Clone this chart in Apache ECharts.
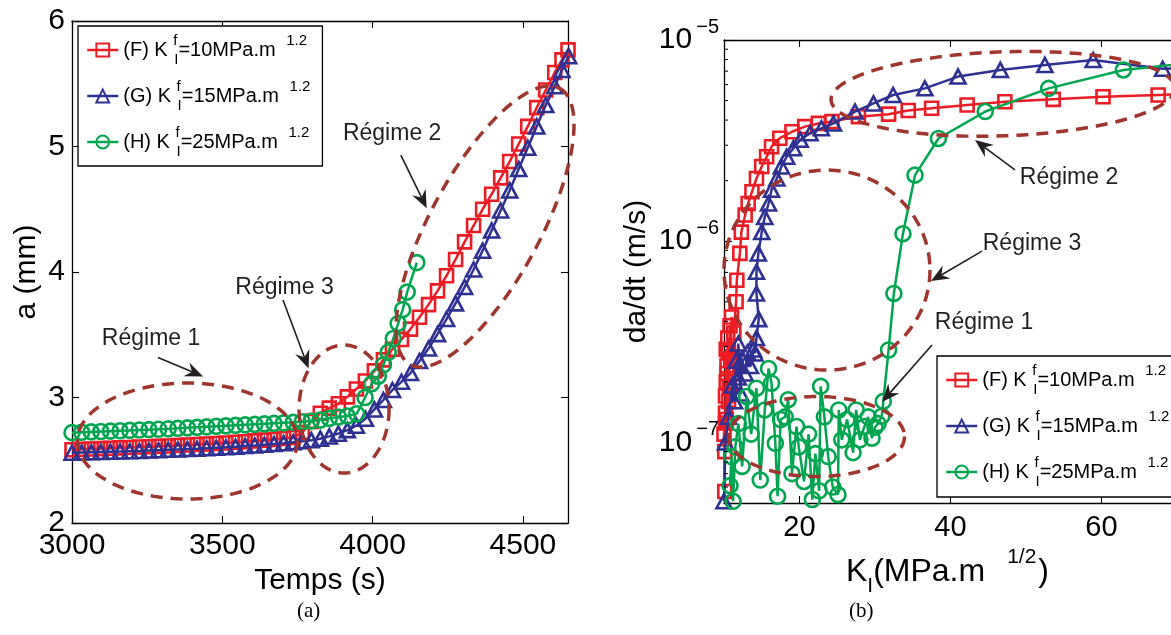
<!DOCTYPE html>
<html><head><meta charset="utf-8">
<script src="https://cdn.jsdelivr.net/npm/echarts@6/dist/echarts.min.js"></script>
<style>html,body{margin:0;padding:0;background:#fff}#c{width:1171px;height:635px}</style>
</head><body><div id="c"></div>
<script>
// ---------------- DATA ----------------
const seriesNames = ['F', 'G', 'H'];
const legendKf = ['10', '15', '25'];

// (a) crack length a (mm) versus time (s)
const timeF = [3000,3032,3064,3096,3128,3160,3192,3224,3256,3288,3320,3352,3384,3416,3448,3480,3512,3544,3576,3608,3640,3672,3704,3736,3766,3796,3826,3856,3886,3916,3946,3976,4006,4036,4066,4096,4126,4156,4186,4216,4246,4276,4306,4336,4366,4396,4426,4456,4486,4516,4546,4576,4606,4630,4650];
const aF = [2.584,2.587,2.590,2.593,2.596,2.599,2.602,2.605,2.608,2.611,2.614,2.617,2.621,2.625,2.629,2.633,2.638,2.643,2.648,2.654,2.660,2.666,2.673,2.682,2.720,2.810,2.875,2.915,2.950,3.005,3.068,3.132,3.212,3.300,3.385,3.462,3.545,3.640,3.740,3.850,3.970,4.100,4.240,4.370,4.500,4.620,4.750,4.880,5.020,5.160,5.310,5.450,5.590,5.690,5.770];
const timeG = [3000,3032,3064,3096,3128,3160,3192,3224,3256,3288,3320,3352,3384,3416,3448,3480,3512,3544,3576,3608,3640,3672,3704,3736,3766,3796,3826,3856,3886,3916,3946,3976,4006,4036,4066,4096,4126,4156,4186,4216,4246,4276,4306,4336,4366,4396,4426,4456,4486,4516,4546,4576,4606,4630,4652];
const aG = [2.560,2.562,2.564,2.566,2.568,2.570,2.572,2.574,2.577,2.580,2.583,2.586,2.589,2.592,2.596,2.600,2.604,2.608,2.613,2.618,2.624,2.630,2.636,2.643,2.651,2.660,2.672,2.690,2.712,2.740,2.775,2.830,2.905,2.980,3.060,3.125,3.195,3.290,3.390,3.505,3.625,3.750,3.880,4.020,4.170,4.330,4.490,4.650,4.820,4.990,5.160,5.330,5.480,5.610,5.720];
const timeH = [3000,3032,3064,3096,3128,3160,3192,3224,3256,3288,3320,3352,3384,3416,3448,3480,3512,3544,3576,3608,3640,3672,3704,3736,3766,3796,3826,3856,3886,3916,3947,3975,3997,4019,4036,4052,4069,4085,4100,4115,4147];
const aH = [2.720,2.723,2.726,2.729,2.732,2.735,2.738,2.741,2.744,2.747,2.750,2.754,2.758,2.762,2.766,2.770,2.774,2.778,2.782,2.786,2.790,2.794,2.798,2.802,2.807,2.813,2.820,2.834,2.845,2.852,2.870,3.000,3.110,3.170,3.260,3.360,3.470,3.590,3.700,3.840,4.075];

// (b) crack velocity da/dt (m/s) versus K_I (MPa.m^1/2)
const kF = [10.1,10.0,10.2,10.1,10.3,10.2,10.3,10.2,10.4,10.3,10.5,10.4,10.6,10.6,10.7,10.8,10.9,11.0,11.3,11.6,11.7,12.1,12.3,12.8,13.2,13.7,14.3,15.0,15.65,16.3,17.4,19.0,20.7,22.5,24.3,27.8,31.8,34.4,37.5,42.2,47.2,53.6,60.2,67.5,76.0];
const vF = [5.7e-8,1.1e-7,1.4e-7,9.0e-8,2.0e-7,1.25e-7,2.9e-7,1.7e-7,2.4e-7,1.3e-7,3.3e-7,2.2e-7,1.6e-7,2.8e-7,1.9e-7,3.8e-7,2.6e-7,4.2e-7,3.5e-7,5.0e-7,6.4e-7,8.7e-7,1.11e-6,1.35e-6,1.54e-6,1.76e-6,2.05e-6,2.35e-6,2.63e-6,2.95e-6,3.25e-6,3.50e-6,3.71e-6,3.85e-6,3.93e-6,4.16e-6,4.28e-6,4.46e-6,4.58e-6,4.75e-6,4.93e-6,5.07e-6,5.22e-6,5.33e-6,5.45e-6];
const kG = [10.0,10.2,10.6,11.1,11.4,11.6,11.9,11.9,12.2,12.4,12.8,13.1,13.5,13.9,14.1,14.3,14.6,14.3,14.3,14.55,15.0,15.4,15.9,16.3,17.0,17.6,18.3,19.2,20.1,21.4,22.9,24.5,27.35,29.8,32.4,36.6,41.0,46.6,52.5,58.9,68.1,77.5];
const vG = [5.1e-8,1.0e-7,1.34e-7,1.92e-7,1.6e-7,2.55e-7,2.1e-7,3.1e-7,1.75e-7,2.6e-7,2.2e-7,2.8e-7,2.4e-7,2.9e-7,2.77e-7,3.3e-7,4.1e-7,5.5e-7,7.05e-7,8.7e-7,1.11e-6,1.32e-6,1.54e-6,1.80e-6,2.05e-6,2.35e-6,2.63e-6,2.90e-6,3.19e-6,3.44e-6,3.64e-6,3.85e-6,4.41e-6,4.84e-6,5.33e-6,5.75e-6,6.58e-6,7.10e-6,7.52e-6,7.96e-6,7.2e-6,7.3e-6];
const kH = [10.8,11.0,11.2,11.5,11.9,12.4,13.0,13.6,14.3,14.8,15.4,15.9,16.3,16.8,17.1,17.5,18.1,18.5,19.0,19.6,19.9,20.6,21.2,21.7,22.1,22.6,22.8,23.3,23.8,24.4,25.1,25.2,25.6,26.3,27.1,27.5,28.0,28.6,29.1,29.6,30.0,30.4,30.9,31.1,31.8,32.5,33.7,35.3,38.4,44.6,53.0,62.9,76.0];
const vH = [6.1e-8,8.5e-8,5.1e-8,9.5e-8,1.24e-7,7.6e-8,1.69e-7,1.1e-7,1.86e-7,6.5e-8,1.45e-7,2.33e-7,1.97e-7,9.9e-8,5.4e-8,1.3e-7,1.34e-7,1.63e-7,7.0e-8,1.2e-7,9.5e-8,6.4e-8,1.1e-7,5.2e-8,8.8e-8,5.75e-8,1.9e-7,1.34e-7,8.5e-8,6.0e-8,5.5e-8,1.45e-7,1.03e-7,1.3e-7,8.9e-8,1.45e-7,1.03e-7,1.2e-7,1.34e-7,1.05e-7,1.19e-7,1.24e-7,1.35e-7,1.6e-7,2.88e-7,5.5e-7,1.09e-6,2.13e-6,3.24e-6,4.41e-6,5.75e-6,7.1e-6,8.0e-6];

// tick values
const ticksAx = [3000, 3500, 4000, 4500];
const ticksBx = [20, 40, 60];
const minorTicksB = [6e-8,7e-8,8e-8,9e-8,2e-7,3e-7,4e-7,5e-7,6e-7,7e-7,8e-7,9e-7,2e-6,3e-6,4e-6,5e-6,6e-6,7e-6,8e-6,9e-6];

// annotations (anchored in data coordinates)
const annotA = {
  ellipses: [{c:[3384,2.653], rx:110, ry:58, rot:0}, {c:[3905,2.908], rx:45, ry:64, rot:0}, {c:[4374,4.363], rx:157, ry:55, rot:61.6}],
  arrows: [{from:[3286,3.319], to:[3436,3.168]}, {from:[3702,3.777], to:[3787,3.231]}, {from:[4094,4.932], to:[4180,4.508]}],
  labels: [{text:'Régime 1', at:[3263,3.466]}, {text:'Régime 3', at:[3707,3.873]}, {text:'Régime 2', at:[4065,5.100]}]
};
const annotB = {
  ellipses: [{c:[46.95,5.40e-6], rx:172, ry:42, rot:2}, {c:[23.64,7.19e-7], rx:103, ry:100, rot:0}, {c:[22.25,1.07e-7], rx:88, ry:40, rot:0}],
  arrows: [{from:[48.54,2.26e-6], to:[43.25,3.18e-6]}, {from:[44.17,8.93e-7], to:[37.42,6.34e-7]}, {from:[37.55,3.05e-7], to:[30.93,1.59e-7]}],
  labels: [{text:'Régime 2', at:[55.70,2.06e-6]}, {text:'Régime 3', at:[50.79,9.68e-7]}, {text:'Régime 1', at:[44.44,3.92e-7]}]
};

// ---------------- STYLE ----------------
const FONT = '"Liberation Sans", Arial, sans-serif';
const RED = '#EC1C24', BLUE = '#2E3192', GREEN = '#00A54F', BROWN = '#A0352D', INK = '#231F20';
const look = {
  F: {color: RED, symbol: 'rect', sizeA: 13, sizeB: 13},
  G: {color: BLUE, symbol: 'triangle', sizeA: [15, 14], sizeB: [15, 14]},
  H: {color: GREEN, symbol: 'circle', sizeA: 15, sizeB: 15}
};
const zip = (x, y) => x.map((v, i) => [v, y[i]]);

function lineSeries(name, data, xi, yi, size, z) {
  const s = look[name];
  return {
    type: 'line', name, data, xAxisIndex: xi, yAxisIndex: yi, z,
    symbol: s.symbol, symbolSize: size, showSymbol: true, clip: false,
    lineStyle: {color: s.color, width: 2.5},
    itemStyle: {color: 'rgba(255,255,255,0)', borderColor: s.color, borderWidth: 2.6},
    emphasis: {disabled: true}, silent: true, animation: false
  };
}

function annotationSeries(ann, xi, yi, anchor) {
  return {
    type: 'custom', xAxisIndex: xi, yAxisIndex: yi, z: 20, silent: true, animation: false, clip: false,
    data: [anchor],
    renderItem(params, api) {
      const children = [];
      ann.ellipses.forEach(e => {
        const c = api.coord(e.c);
        const phi = e.rot * Math.PI / 180, pts = [];
        for (let k = 0; k <= 144; k++) {
          const th = k / 144 * 2 * Math.PI;
          const x = e.rx * Math.cos(th), y = e.ry * Math.sin(th);
          pts.push([c[0] + x * Math.cos(phi) + y * Math.sin(phi), c[1] - x * Math.sin(phi) + y * Math.cos(phi)]);
        }
        children.push({type: 'polyline', shape: {points: pts}, style: {stroke: BROWN, lineWidth: 3.5, lineDash: [12, 8], fill: 'none'}});
      });
      ann.arrows.forEach(a => {
        const p0 = api.coord(a.from), p1 = api.coord(a.to);
        const dx = p1[0] - p0[0], dy = p1[1] - p0[1], L = Math.hypot(dx, dy);
        const ux = dx / L, uy = dy / L, nx = -uy, ny = ux;
        const H = 18, W = 7.5, N = 12;
        children.push({type: 'line', shape: {x1: p0[0], y1: p0[1], x2: p1[0] - ux * N, y2: p1[1] - uy * N}, style: {stroke: INK, lineWidth: 1.6}});
        children.push({type: 'polygon', shape: {points: [
          [p1[0], p1[1]],
          [p1[0] - ux * H + nx * W, p1[1] - uy * H + ny * W],
          [p1[0] - ux * N, p1[1] - uy * N],
          [p1[0] - ux * H - nx * W, p1[1] - uy * H - ny * W]]}, style: {fill: INK}});
      });
      ann.labels.forEach(l => {
        const p = api.coord(l.at);
        children.push({type: 'text', x: p[0], y: p[1], style: {text: l.text, fontSize: 23, fontFamily: FONT, fill: INK, align: 'center', verticalAlign: 'middle'}});
      });
      return {type: 'group', children};
    }
  };
}

const legendRich = {
  f: {fontSize: 15, lineHeight: 15, verticalAlign: 'top', width: 1, fontFamily: FONT, color: '#000'},
  i: {fontSize: 15, lineHeight: 15, verticalAlign: 'bottom', fontFamily: FONT, color: '#000'},
  p: {fontSize: 15, lineHeight: 15, verticalAlign: 'top', padding: [0, 0, 0, 5], fontFamily: FONT, color: '#000'}
};
function legendCfg(left, top, framed) {
  return {
    data: seriesNames, orient: 'vertical', left, top, padding: [7, 12, 7, 8],
    itemWidth: 31, itemHeight: 16, itemGap: 12, selectedMode: false,
    backgroundColor: framed ? '#fff' : 'transparent', borderColor: '#000', borderWidth: framed ? 1.3 : 0, borderRadius: 0,
    lineStyle: {width: 2.5},
    textStyle: {fontFamily: FONT, fontSize: 20, color: '#000', lineHeight: 34, rich: legendRich},
    formatter: n => '(' + n + ') K {f|f}{i|I}=' + legendKf[seriesNames.indexOf(n)] + 'MPa.m {p|1.2}'
  };
}

const axisLine = {show: true, lineStyle: {color: '#000', width: 1.3}};
const tickIn = (len) => ({show: true, inside: true, length: len, lineStyle: {color: '#000', width: 1.1}});

// right panel is cut by the page edge: its x range ends where the page ends
const bLeft = 724, bPxPerUnit = 7.55, bRight = 1171;
const bMax = 10 + (bRight - bLeft) / bPxPerUnit;

const option = {
  animation: false,
  backgroundColor: '#fff',
  title: [
    {text: '(a)', left: 292, top: 596, textStyle: {fontFamily: '"Liberation Serif", serif', fontSize: 21, fontWeight: 'normal', color: '#000'}},
    {text: '(b)', left: 844, top: 596, textStyle: {fontFamily: '"Liberation Serif", serif', fontSize: 21, fontWeight: 'normal', color: '#000'}}
  ],
  graphic: [
    {type: 'rect', z: 90, zlevel: 0, silent: true, shape: {x: 937, y: 356, width: 300, height: 141},
     style: {fill: '#fff', stroke: '#000', lineWidth: 1.3}}
  ],
  grid: [
    {left: 72, top: 21, width: 496, height: 502, containLabel: false},
    {left: bLeft, top: 40, width: bRight - bLeft, height: 463, containLabel: false}
  ],
  legend: [Object.assign(legendCfg(78, 26, true), {z: 4}), Object.assign(legendCfg(937, 356, false), {z: 100})],
  xAxis: [
    {gridIndex: 0, type: 'value', min: 3000, max: 4650, position: 'bottom', axisLine, splitLine: {show: false},
     axisTick: Object.assign(tickIn(7), {customValues: ticksAx}),
     axisLabel: {customValues: ticksAx, fontSize: 30, fontFamily: FONT, color: '#000', margin: 8, formatter: v => String(v)},
     name: 'Temps (s)', nameLocation: 'middle', nameGap: 40, nameTextStyle: {fontSize: 30, fontFamily: FONT, color: '#000'}},
    {gridIndex: 0, type: 'value', min: 3000, max: 4650, position: 'top', axisLine, splitLine: {show: false},
     axisTick: Object.assign(tickIn(7), {customValues: ticksAx}), axisLabel: {show: false}},
    {gridIndex: 1, type: 'value', min: 10, max: bMax, position: 'bottom', axisLine, splitLine: {show: false},
     axisTick: Object.assign(tickIn(7), {customValues: ticksBx}),
     axisLabel: {customValues: ticksBx, fontSize: 29, fontFamily: FONT, color: '#000', margin: 10, formatter: v => String(v)},
     name: 'K{sub|I}(MPa.m{sup|1/2})', nameLocation: 'middle', nameGap: 44,
     nameTextStyle: {fontSize: 32, fontFamily: FONT, color: '#000', lineHeight: 50,
       rich: {sub: {fontSize: 21, lineHeight: 20, verticalAlign: 'bottom', fontFamily: FONT, color: '#000'},
              sup: {fontSize: 21, lineHeight: 34, verticalAlign: 'top', padding: [0, 2, 0, 22], fontFamily: FONT, color: '#000'}}}},
    {gridIndex: 1, type: 'value', min: 10, max: bMax, position: 'top', axisLine, splitLine: {show: false},
     axisTick: Object.assign(tickIn(7), {customValues: ticksBx}), axisLabel: {show: false}}
  ],
  yAxis: [
    {gridIndex: 0, type: 'value', min: 2, max: 6, interval: 1, position: 'left', axisLine, splitLine: {show: false},
     axisTick: tickIn(7), axisLabel: {fontSize: 30, fontFamily: FONT, color: '#000', margin: 7},
     name: 'a (mm)', nameLocation: 'middle', nameGap: 30, nameRotate: 90, nameTextStyle: {fontSize: 30, fontFamily: FONT, color: '#000'}},
    {gridIndex: 0, type: 'value', min: 2, max: 6, interval: 1, position: 'right', axisLine, splitLine: {show: false},
     axisTick: tickIn(7), axisLabel: {show: false}},
    {gridIndex: 1, type: 'log', logBase: 10, min: 5e-8, max: 1e-5, position: 'left', axisLine, splitLine: {show: false},
     axisTick: tickIn(8),
     axisLabel: {fontSize: 30, fontFamily: FONT, color: '#000', margin: 5, lineHeight: 46,
       formatter: v => { const e = Math.log10(v), r = Math.round(e); return Math.abs(e - r) > 1e-6 ? '' : '10{s|\u2212' + (-r) + '}'; },
       rich: {s: {fontSize: 20, lineHeight: 14, verticalAlign: 'top', padding: [0, 0, 0, 4], fontFamily: FONT, color: '#000'}}},
     name: 'da/dt (m/s)', nameLocation: 'middle', nameGap: 72, nameRotate: 90, nameTextStyle: {fontSize: 30, fontFamily: FONT, color: '#000'}},
    {gridIndex: 1, type: 'log', logBase: 10, min: 5e-8, max: 1e-5, position: 'right', axisLine: {show: false}, splitLine: {show: false},
     axisTick: {show: false}, axisLabel: {show: false}}
  ],
  series: [
    lineSeries('F', zip(timeF, aF), 0, 0, look.F.sizeA, 2),
    lineSeries('G', zip(timeG, aG), 0, 0, look.G.sizeA, 3),
    lineSeries('H', zip(timeH, aH), 0, 0, look.H.sizeA, 4),
    lineSeries('F', zip(kF, vF), 2, 2, look.F.sizeB, 2),
    lineSeries('G', zip(kG, vG), 2, 2, look.G.sizeB, 3),
    lineSeries('H', zip(kH, vH), 2, 2, look.H.sizeB, 4),
    annotationSeries(annotA, 0, 0, [3500, 4]),
    annotationSeries(annotB, 2, 2, [40, 1e-6]),
    {type: 'custom', xAxisIndex: 2, yAxisIndex: 2, z: 5, silent: true, animation: false, clip: false,
     data: minorTicksB.map(v => [10, v]),
     renderItem(params, api) {
       const p = api.coord([api.value(0), api.value(1)]);
       return {type: 'line', shape: {x1: p[0], y1: p[1], x2: p[0] + 4, y2: p[1]}, style: {stroke: '#000', lineWidth: 1}};
     }}
  ]
};

const chart = echarts.init(document.getElementById('c'), null, {renderer: 'canvas', width: 1171, height: 635});
chart.setOption(option);
</script>
</body></html>
